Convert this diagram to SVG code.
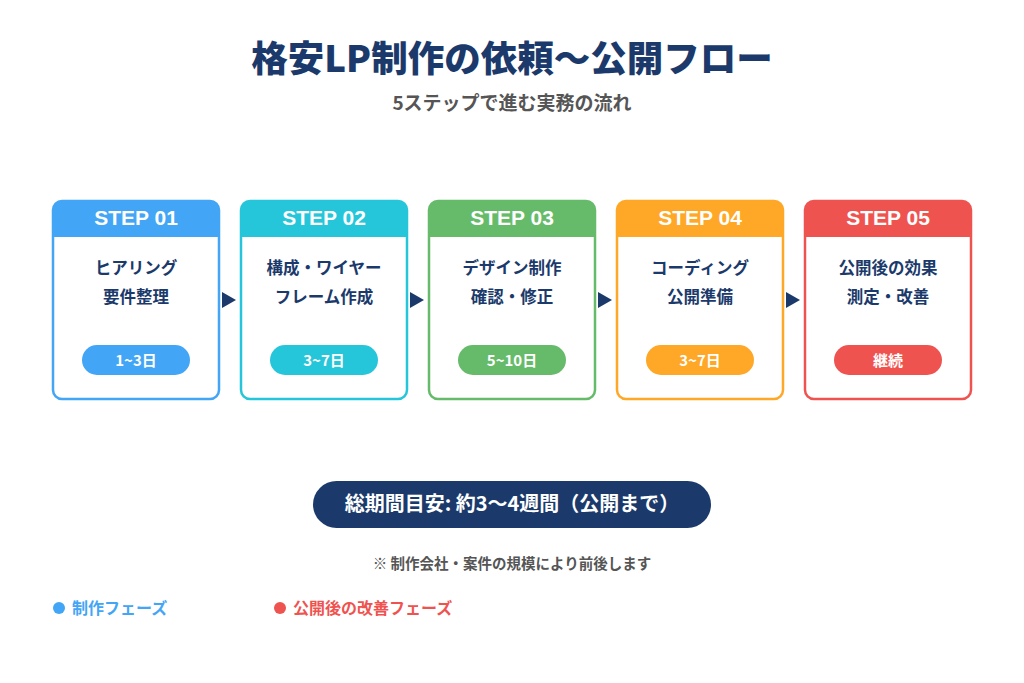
<svg xmlns="http://www.w3.org/2000/svg" width="1024" height="683" viewBox="0 0 1024 683">
<style>
text{font-family:"Noto Sans CJK JP","Noto Sans",sans-serif;font-weight:700}
.title{font-size:36.5px;fill:#1b3a6b;font-weight:900}
.sub{font-size:19px;fill:#555}
.head{font-size:21px;fill:#fff;font-family:"Liberation Sans","Noto Sans CJK JP",sans-serif;font-weight:700}
.body{font-size:16.5px;fill:#1b3a6b}
.pill{font-size:15px;fill:#fff}
.box{fill:#fff;stroke-width:2.5}
.arrow{fill:#1b3a6b}
</style>
<defs>
<clipPath id="c"><rect x="0" y="0" width="166" height="198" rx="9"/></clipPath>
</defs>
<rect width="1024" height="683" fill="#fff"/>
<text class="title" x="512" y="72" text-anchor="middle">格安LP制作の依頼〜公開フロー</text>
<text class="sub" x="512" y="110" text-anchor="middle">5ステップで進む実務の流れ</text>

<g id="step1" transform="translate(53,201)">
<rect class="box" width="166" height="198" rx="9" stroke="#42a5f5"/>
<rect width="166" height="36" fill="#42a5f5" clip-path="url(#c)"/>
<text class="head" x="83" y="24" text-anchor="middle">STEP 01</text>
<text class="body" x="83" y="73" text-anchor="middle">ヒアリング</text>
<text class="body" x="83" y="102" text-anchor="middle">要件整理</text>
<rect x="29" y="144" width="108" height="30" rx="15" fill="#42a5f5"/>
<text class="pill" x="83" y="165" text-anchor="middle">1~3日</text>
</g>
<g id="step2" transform="translate(241,201)">
<rect class="box" width="166" height="198" rx="9" stroke="#26c6da"/>
<rect width="166" height="36" fill="#26c6da" clip-path="url(#c)"/>
<text class="head" x="83" y="24" text-anchor="middle">STEP 02</text>
<text class="body" x="83" y="73" text-anchor="middle">構成・ワイヤー</text>
<text class="body" x="83" y="102" text-anchor="middle">フレーム作成</text>
<rect x="29" y="144" width="108" height="30" rx="15" fill="#26c6da"/>
<text class="pill" x="83" y="165" text-anchor="middle">3~7日</text>
</g>
<g id="step3" transform="translate(429,201)">
<rect class="box" width="166" height="198" rx="9" stroke="#66bb6a"/>
<rect width="166" height="36" fill="#66bb6a" clip-path="url(#c)"/>
<text class="head" x="83" y="24" text-anchor="middle">STEP 03</text>
<text class="body" x="83" y="73" text-anchor="middle">デザイン制作</text>
<text class="body" x="83" y="102" text-anchor="middle">確認・修正</text>
<rect x="29" y="144" width="108" height="30" rx="15" fill="#66bb6a"/>
<text class="pill" x="83" y="165" text-anchor="middle">5~10日</text>
</g>
<g id="step4" transform="translate(617,201)">
<rect class="box" width="166" height="198" rx="9" stroke="#ffa726"/>
<rect width="166" height="36" fill="#ffa726" clip-path="url(#c)"/>
<text class="head" x="83" y="24" text-anchor="middle">STEP 04</text>
<text class="body" x="83" y="73" text-anchor="middle">コーディング</text>
<text class="body" x="83" y="102" text-anchor="middle">公開準備</text>
<rect x="29" y="144" width="108" height="30" rx="15" fill="#ffa726"/>
<text class="pill" x="83" y="165" text-anchor="middle">3~7日</text>
</g>
<g id="step5" transform="translate(805,201)">
<rect class="box" width="166" height="198" rx="9" stroke="#ef5350"/>
<rect width="166" height="36" fill="#ef5350" clip-path="url(#c)"/>
<text class="head" x="83" y="24" text-anchor="middle">STEP 05</text>
<text class="body" x="83" y="73" text-anchor="middle">公開後の効果</text>
<text class="body" x="83" y="102" text-anchor="middle">測定・改善</text>
<rect x="29" y="144" width="108" height="30" rx="15" fill="#ef5350"/>
<text class="pill" x="83" y="165" text-anchor="middle">継続</text>
</g>

<g id="connectors">
<polygon class="arrow" points="222,292 236,300 222,308"/>
<polygon class="arrow" points="410,292 424,300 410,308"/>
<polygon class="arrow" points="598,292 612,300 598,308"/>
<polygon class="arrow" points="786,292 800,300 786,308"/>
</g>

<g id="total">
<rect x="313" y="481" width="398" height="47" rx="23.5" fill="#1b3a6b"/>
<text x="512" y="511" text-anchor="middle" font-size="20" fill="#fff">総期間目安: 約3〜4週間（公開まで）</text>
</g>
<text x="512" y="569" text-anchor="middle" font-size="14.5" fill="#555">※ 制作会社・案件の規模により前後します</text>

<g id="legend">
<circle cx="59" cy="608" r="6" fill="#42a5f5"/>
<text x="72" y="614" font-size="16" fill="#42a5f5">制作フェーズ</text>
<circle cx="280" cy="608" r="6" fill="#ef5350"/>
<text x="293" y="614" font-size="16" fill="#ef5350">公開後の改善フェーズ</text>
</g>
</svg>
